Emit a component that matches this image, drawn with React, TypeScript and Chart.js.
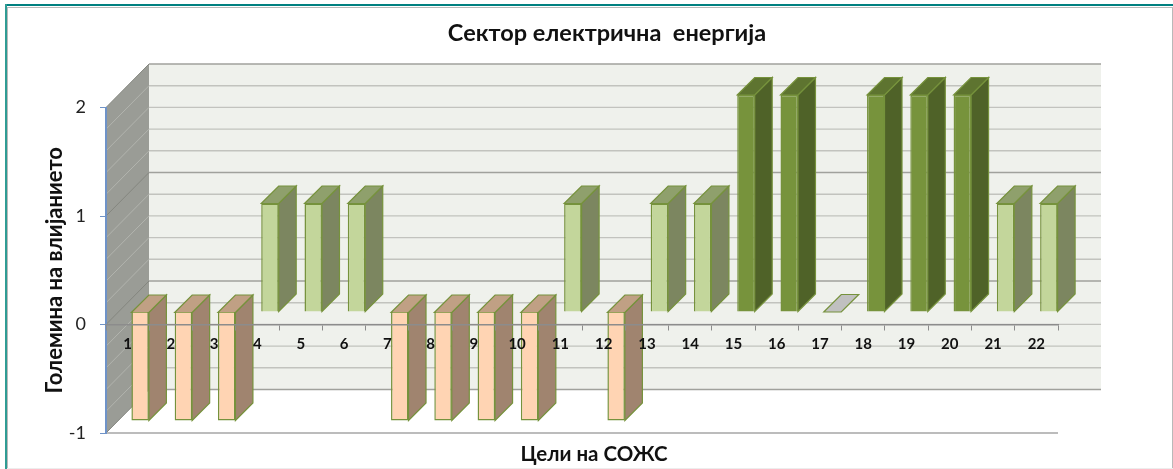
import React, { useEffect, useRef } from "react";
import { Chart, registerables } from "chart.js";

Chart.register(...registerables);

const FONT = "Lato, 'Open Sans', sans-serif";
const CHART_TITLE = "Сектор електрична  енергија";
const X_TITLE = "Цели на СОЖС";
const Y_TITLE = "Големина на влијанието";
const categories = ["1","2","3","4","5","6","7","8","9","10","11","12","13","14","15","16","17","18","19","20","21","22"];
const impact = [-1,-1,-1,1,1,1,-1,-1,-1,-1,1,-1,1,1,2,2,0,2,2,2,1,1];
const wallGridValues = [-1,-0.8,-0.6,-0.4,-0.2,0,0.2,0.4,0.6,0.8,1,1.2,1.4,1.6,1.8,2];
const wallMajorValues = [-1,0,1,2];

const faceColors: Record<string,string> = { "-1": "#FFD4B3", "0": "#C0C0C0", "1": "#C3D69B", "2": "#77933C" };
const sideColors: Record<string,string> = { "-1": "#A0846F", "0": "#C0C0C0", "1": "#7C8660", "2": "#4F6228" };
const topColors: Record<string,string> = { "-1": "#C0A084", "0": "#C0C0C0", "1": "#8FA06C", "2": "#5E7430" };
const BORDER = "#76923C";
const WALL_DX = 43;
const WALL_DY = 43.5;
const BAR_OFFSET = 12.5;
const BAR_DEPTH = 17.5;

const poly = (ctx: CanvasRenderingContext2D, pts: number[][], fill: string, stroke?: string, lw = 1) => {
  ctx.beginPath();
  pts.forEach((p, i) => (i ? ctx.lineTo(p[0], p[1]) : ctx.moveTo(p[0], p[1])));
  ctx.closePath();
  ctx.fillStyle = fill;
  ctx.fill();
  if (stroke) {
    ctx.strokeStyle = stroke;
    ctx.lineWidth = lw;
    ctx.stroke();
  }
};

const line = (ctx: CanvasRenderingContext2D, x1: number, y1: number, x2: number, y2: number, color: string, lw: number) => {
  ctx.beginPath();
  ctx.moveTo(x1, y1);
  ctx.lineTo(x2, y2);
  ctx.strokeStyle = color;
  ctx.lineWidth = lw;
  ctx.stroke();
};

const scene3d = {
  id: "scene3d",
  afterLayout(chart: any) {
    chart.titleBlock.left = 41;
    chart.titleBlock.right = 1173;
  },
  beforeDraw(chart: any) {
    const { ctx, chartArea: a, scales } = chart;
    const y = scales.y;
    ctx.save();
    // frame
    ctx.fillStyle = "#008080";
    ctx.fillRect(5, 4, 1168, 2);
    ctx.fillStyle = "#2F9C94";
    ctx.fillRect(5, 4, 2, 465);
    ctx.fillStyle = "#B9B9B9";
    ctx.fillRect(7, 7, 1166, 1);
    ctx.fillRect(7, 7, 1, 462);
    ctx.fillRect(1172, 7, 1, 462);
    ctx.fillStyle = "#EDEDED";
    ctx.fillRect(7, 468, 1166, 1);
    // back wall and side wall
    const backTop = y.getPixelForValue(2) - WALL_DY;
    const backBottom = y.getPixelForValue(-1) - WALL_DY;
    poly(ctx, [[a.left + WALL_DX, backTop], [a.right + WALL_DX, backTop], [a.right + WALL_DX, backBottom], [a.left + WALL_DX, backBottom]], "#EFF1EC");
    poly(ctx, [[a.left, y.getPixelForValue(2)], [a.left + WALL_DX, backTop], [a.left + WALL_DX, backBottom], [a.left, y.getPixelForValue(-1)]], "#9A9C96");
    wallGridValues.forEach((v) => {
      const major = wallMajorValues.includes(v);
      const py = y.getPixelForValue(v);
      line(ctx, a.left, py, a.left + WALL_DX, py - WALL_DY, major ? "#84867F" : "#B2B4AE", 1);
      line(ctx, a.left + WALL_DX, py - WALL_DY, a.right + WALL_DX, py - WALL_DY, major ? "#A0A19C" : "#C2C3BE", major ? 1.6 : 1.4);
    });
    // floor front edge
    line(ctx, a.left, a.bottom, a.right, a.bottom, "#A6A6A6", 1.5);
    ctx.restore();
  },
  beforeDatasetDraw(chart: any, args: any) {
    const { ctx } = chart;
    ctx.save();
    ctx.translate(BAR_OFFSET, -BAR_OFFSET);
    args.meta.data.forEach((el: any, i: number) => {
      const key = String(impact[i]);
      const l = el.x - el.width / 2;
      const r = el.x + el.width / 2;
      const t = Math.min(el.y, el.base);
      const b = Math.max(el.y, el.base);
      const d = BAR_DEPTH;
      if (b > t) {
        poly(ctx, [[r, t], [r + d, t - d], [r + d, b - d], [r, b]], sideColors[key], BORDER, 1.2);
      }
      poly(ctx, [[l, t], [r, t], [r + d, t - d], [l + d, t - d]], topColors[key], BORDER, 1.2);
    });
  },
  afterDatasetDraw(chart: any) {
    chart.ctx.restore();
  },
  afterDraw(chart: any) {
    const { ctx } = chart;
    ctx.save();
    ctx.fillStyle = "#111111";
    ctx.font = `bold 20.5px ${FONT}`;
    ctx.textAlign = "center";
    ctx.textBaseline = "middle";
    ctx.fillText(X_TITLE, 594, 454);
    ctx.restore();
  },
};

export default function App() {
  const ref = useRef<HTMLCanvasElement | null>(null);
  useEffect(() => {
    const chart = new Chart(ref.current as HTMLCanvasElement, {
      type: "bar",
      data: {
        labels: categories,
        datasets: [
          {
            label: Y_TITLE,
            data: impact,
            backgroundColor: impact.map((v) => faceColors[String(v)]),
            borderColor: BORDER,
            borderWidth: 1.5,
            categoryPercentage: 1,
            barPercentage: 0.404,
            clip: false,
          } as any,
        ],
      },
      options: {
        responsive: false,
        animation: false,
        events: [],
        layout: { padding: { left: 42, right: 115, top: 0, bottom: 36 } },
        plugins: {
          legend: { display: false },
          tooltip: { enabled: false },
          title: {
            display: true,
            text: CHART_TITLE,
            color: "#111111",
            font: { family: FONT, size: 23.5, weight: "bold" },
            padding: { top: 19, bottom: 60.3 },
          },
        },
        scales: {
          x: {
            position: { y: 0 } as any,
            grid: { offset: true, drawOnChartArea: false, tickLength: 5, tickColor: "#8C8C8C", z: 1 },
            border: { color: "#8C8C8C", width: 1.5, z: 1 },
            ticks: {
              color: "#111111",
              maxRotation: 0,
              autoSkip: false,
              padding: 6,
              z: 1,
              font: { family: FONT, size: 15, weight: "bold" },
            },
          },
          y: {
            min: -1,
            max: 2,
            afterFit: (s: any) => {
              s.width = 64;
            },
            grid: { drawOnChartArea: false, tickLength: 6, tickColor: "#6F93C8" },
            border: { color: "#6F93C8", width: 2 },
            ticks: {
              stepSize: 1,
              color: "#222222",
              padding: 14,
              font: { family: FONT, size: 18 },
            },
            title: {
              display: true,
              text: Y_TITLE,
              color: "#111111",
              font: { family: FONT, size: 22, weight: "bold" },
              padding: 0,
            },
          },
        },
      },
      plugins: [scene3d],
    });
    return () => chart.destroy();
  }, []);
  return (
    <div style={{ position: "fixed", left: 0, top: 0, width: 1173, height: 469 }}>
      <canvas ref={ref} width={1173} height={469} style={{ display: "block" }} />
    </div>
  );
}
